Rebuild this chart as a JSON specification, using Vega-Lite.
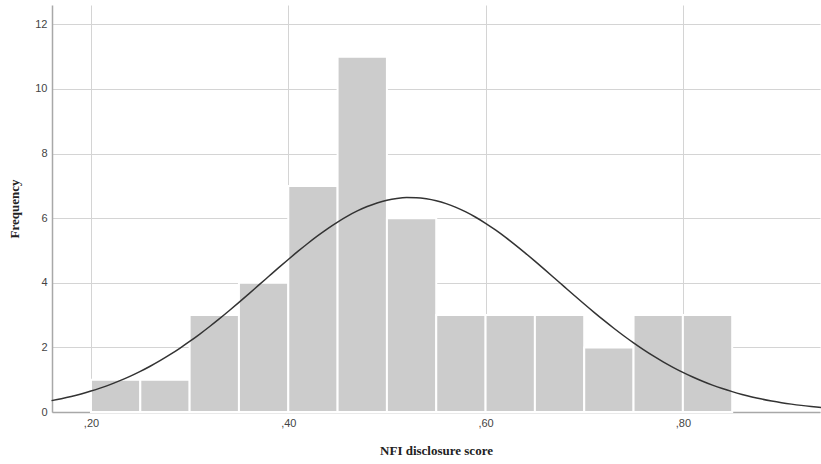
{
  "$schema": "https://vega.github.io/schema/vega-lite/v6.json",
  "width": 768,
  "height": 407,
  "autosize": {"type": "none"},
  "padding": {"left": 52, "top": 5, "right": 1, "bottom": 52},
  "background": "white",
  "config": {"view": {"stroke": null}},
  "datasets": {
    "bars": [
      {"bin_start": 0.20, "bin_end": 0.25, "count": 1},
      {"bin_start": 0.25, "bin_end": 0.30, "count": 1},
      {"bin_start": 0.30, "bin_end": 0.35, "count": 3},
      {"bin_start": 0.35, "bin_end": 0.40, "count": 4},
      {"bin_start": 0.40, "bin_end": 0.45, "count": 7},
      {"bin_start": 0.45, "bin_end": 0.50, "count": 11},
      {"bin_start": 0.50, "bin_end": 0.55, "count": 6},
      {"bin_start": 0.55, "bin_end": 0.60, "count": 3},
      {"bin_start": 0.60, "bin_end": 0.65, "count": 3},
      {"bin_start": 0.65, "bin_end": 0.70, "count": 3},
      {"bin_start": 0.70, "bin_end": 0.75, "count": 2},
      {"bin_start": 0.75, "bin_end": 0.80, "count": 3},
      {"bin_start": 0.80, "bin_end": 0.85, "count": 3}
    ],
    "curve": [
      {"x": 0.16, "y": 0.352}, {"x": 0.17, "y": 0.413}, {"x": 0.18, "y": 0.482}, {"x": 0.19, "y": 0.560},
      {"x": 0.20, "y": 0.648}, {"x": 0.21, "y": 0.747}, {"x": 0.22, "y": 0.856}, {"x": 0.23, "y": 0.978},
      {"x": 0.24, "y": 1.111}, {"x": 0.25, "y": 1.258}, {"x": 0.26, "y": 1.417}, {"x": 0.27, "y": 1.589},
      {"x": 0.28, "y": 1.775}, {"x": 0.29, "y": 1.973}, {"x": 0.30, "y": 2.184}, {"x": 0.31, "y": 2.406},
      {"x": 0.32, "y": 2.640}, {"x": 0.33, "y": 2.883}, {"x": 0.34, "y": 3.135}, {"x": 0.35, "y": 3.394},
      {"x": 0.36, "y": 3.658}, {"x": 0.37, "y": 3.926}, {"x": 0.38, "y": 4.193}, {"x": 0.39, "y": 4.460},
      {"x": 0.40, "y": 4.722}, {"x": 0.41, "y": 4.978}, {"x": 0.42, "y": 5.225}, {"x": 0.43, "y": 5.459},
      {"x": 0.44, "y": 5.679}, {"x": 0.45, "y": 5.881}, {"x": 0.46, "y": 6.064}, {"x": 0.47, "y": 6.225},
      {"x": 0.48, "y": 6.361}, {"x": 0.49, "y": 6.472}, {"x": 0.50, "y": 6.556}, {"x": 0.51, "y": 6.611},
      {"x": 0.52, "y": 6.638}, {"x": 0.53, "y": 6.635}, {"x": 0.54, "y": 6.602}, {"x": 0.55, "y": 6.541},
      {"x": 0.56, "y": 6.452}, {"x": 0.57, "y": 6.336}, {"x": 0.58, "y": 6.194}, {"x": 0.59, "y": 6.029},
      {"x": 0.60, "y": 5.842}, {"x": 0.61, "y": 5.636}, {"x": 0.62, "y": 5.413}, {"x": 0.63, "y": 5.176},
      {"x": 0.64, "y": 4.928}, {"x": 0.65, "y": 4.670}, {"x": 0.66, "y": 4.407}, {"x": 0.67, "y": 4.140},
      {"x": 0.68, "y": 3.872}, {"x": 0.69, "y": 3.605}, {"x": 0.70, "y": 3.342}, {"x": 0.71, "y": 3.084},
      {"x": 0.72, "y": 2.834}, {"x": 0.73, "y": 2.592}, {"x": 0.74, "y": 2.361}, {"x": 0.75, "y": 2.141},
      {"x": 0.76, "y": 1.932}, {"x": 0.77, "y": 1.736}, {"x": 0.78, "y": 1.554}, {"x": 0.79, "y": 1.384},
      {"x": 0.80, "y": 1.227}, {"x": 0.81, "y": 1.083}, {"x": 0.82, "y": 0.952}, {"x": 0.83, "y": 0.833},
      {"x": 0.84, "y": 0.726}, {"x": 0.85, "y": 0.630}, {"x": 0.86, "y": 0.544}, {"x": 0.87, "y": 0.467},
      {"x": 0.88, "y": 0.400}, {"x": 0.89, "y": 0.341}, {"x": 0.90, "y": 0.289}, {"x": 0.91, "y": 0.244},
      {"x": 0.92, "y": 0.205}, {"x": 0.93, "y": 0.172}, {"x": 0.94, "y": 0.143}
    ]
  },
  "layer": [
    {
      "data": {"name": "bars"},
      "mark": {"type": "rect", "fill": "#cccccc", "stroke": "white", "strokeWidth": 2},
      "encoding": {
        "x": {
          "field": "bin_start", "type": "quantitative",
          "scale": {"domain": [0.1605, 0.939], "nice": false, "zero": false},
          "axis": {
            "values": [0.2, 0.4, 0.6, 0.8],
            "labelExpr": "replace(format(datum.value, '.2f'), '0.', ',')",
            "title": "NFI disclosure score",
            "titleFont": "Liberation Serif", "titleFontSize": 13, "titleFontWeight": "bold", "titleColor": "#222222",
            "titlePadding": 16,
            "labelFont": "Liberation Sans", "labelFontSize": 11, "labelColor": "#444444", "labelPadding": 5,
            "ticks": false,
            "grid": true, "gridColor": "#d4d4d4", "gridWidth": 1,
            "domainColor": "#a8a8a8", "domainWidth": 1.5
          }
        },
        "x2": {"field": "bin_end"},
        "y": {
          "field": "count", "type": "quantitative",
          "scale": {"domain": [0, 12.6], "nice": false},
          "axis": {
            "values": [0, 2, 4, 6, 8, 10, 12],
            "title": "Frequency",
            "titleFont": "Liberation Serif", "titleFontSize": 13, "titleFontWeight": "bold", "titleColor": "#222222",
            "titlePadding": 13,
            "labelFont": "Liberation Sans", "labelFontSize": 11, "labelColor": "#444444", "labelPadding": 5,
            "ticks": false,
            "grid": true, "gridColor": "#d4d4d4", "gridWidth": 1,
            "domainColor": "#a8a8a8", "domainWidth": 1.5
          }
        },
        "y2": {"datum": 0}
      }
    },
    {
      "data": {"name": "curve"},
      "mark": {"type": "line", "color": "#333333", "strokeWidth": 1.5, "interpolate": "monotone"},
      "encoding": {
        "x": {"field": "x", "type": "quantitative"},
        "y": {"field": "y", "type": "quantitative"}
      }
    }
  ]
}
